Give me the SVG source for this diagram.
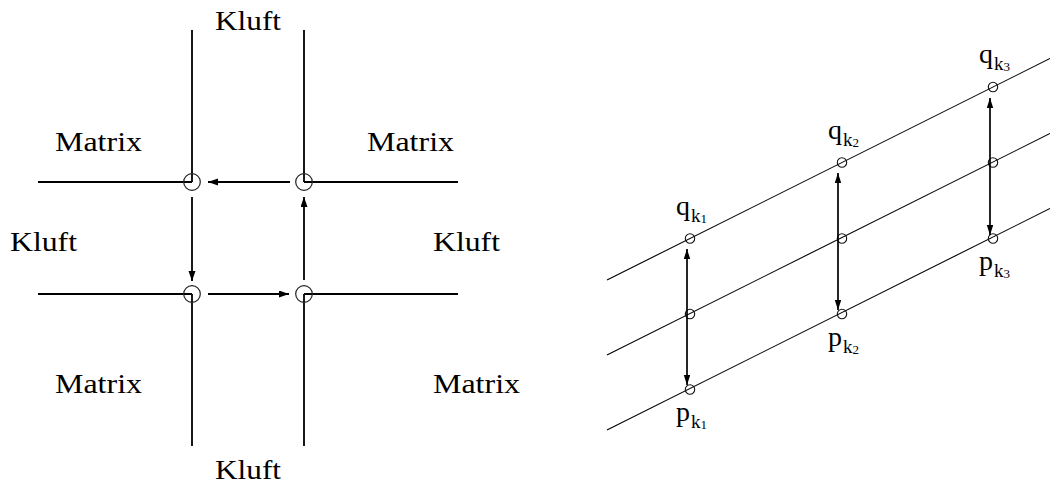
<svg xmlns="http://www.w3.org/2000/svg" width="1050" height="486" viewBox="0 0 1050 486">
<style>
.lbl{font-family:"Liberation Serif","Times New Roman",serif;font-size:27.5px;fill:#000}
.ml{font-family:"Liberation Serif","Times New Roman",serif;font-size:28px;fill:#000}
.s1{font-size:19px}
.s2{font-size:13px}
.thick{stroke:#000;stroke-width:1.8;fill:none}
.thin{stroke:#000;stroke-width:1.1;fill:none}
.nodeL{stroke:#222;stroke-width:1.2;fill:none}
.nodeR{stroke:#111;stroke-width:1.1;fill:none}
.arrL{stroke:#000;stroke-width:1.8;fill:none;marker-end:url(#ahL)}
.arrR{stroke:#000;stroke-width:1.7;fill:none;marker-start:url(#ahR);marker-end:url(#ahR)}
</style>
<defs>
<marker id="ahL" markerUnits="userSpaceOnUse" markerWidth="11" markerHeight="8" refX="10" refY="3.5" orient="auto"><path d="M0,0 L10,3.5 L0,7 z" fill="#000"/></marker>
<marker id="ahR" markerUnits="userSpaceOnUse" markerWidth="11" markerHeight="7" refX="10" refY="3.2" orient="auto-start-reverse"><path d="M0,0 L10,3.2 L0,6.4 z" fill="#000"/></marker>
</defs>
<rect width="1050" height="486" fill="#fff"/>

<g id="left-lines">
<path class="thick" d="M192,30 V182 M38,182 H192"/>
<path class="thick" d="M304,30 V182 M304,182 H458"/>
<path class="thick" d="M38,294 H192 M192,294 V446"/>
<path class="thick" d="M304,294 H458 M304,294 V446"/>
</g>
<g id="left-labels">
<text class="lbl" x="215" y="30" textLength="66" lengthAdjust="spacingAndGlyphs">Kluft</text>
<text class="lbl" x="55" y="151" textLength="87" lengthAdjust="spacingAndGlyphs">Matrix</text>
<text class="lbl" x="367" y="151" textLength="87" lengthAdjust="spacingAndGlyphs">Matrix</text>
<text class="lbl" x="10" y="251" textLength="67" lengthAdjust="spacingAndGlyphs">Kluft</text>
<text class="lbl" x="433" y="251" textLength="67" lengthAdjust="spacingAndGlyphs">Kluft</text>
<text class="lbl" x="55" y="393" textLength="87" lengthAdjust="spacingAndGlyphs">Matrix</text>
<text class="lbl" x="433" y="393" textLength="87" lengthAdjust="spacingAndGlyphs">Matrix</text>
<text class="lbl" x="215" y="479" textLength="66" lengthAdjust="spacingAndGlyphs">Kluft</text>
</g>
<g id="n-tl"><circle class="nodeL" cx="192" cy="182" r="8.3"/></g>
<g id="n-tr"><circle class="nodeL" cx="304" cy="182" r="8.3"/></g>
<g id="n-bl"><circle class="nodeL" cx="192" cy="294" r="8.3"/></g>
<g id="n-br"><circle class="nodeL" cx="304" cy="294" r="8.3"/></g>
<g id="left-connectors">
<line class="arrL" x1="290" y1="182" x2="208" y2="182"/>
<line class="arrL" x1="192" y1="197" x2="192" y2="281"/>
<line class="arrL" x1="208" y1="294" x2="289" y2="294"/>
<line class="arrL" x1="304" y1="280" x2="304" y2="197"/>
</g>

<g id="right-lines">
<line class="thin" x1="607" y1="280" x2="1050" y2="58.5"/>
<line class="thin" x1="607" y1="355" x2="1050" y2="133.5"/>
<line class="thin" x1="607" y1="430" x2="1050" y2="208.5"/>
</g>
<g id="q1"><circle class="nodeR" cx="690" cy="238.5" r="4.7"/><text class="ml" x="676" y="215">q<tspan class="s1" dx="1" dy="7">k</tspan><tspan class="s2" dy="1">1</tspan></text></g>
<g id="m1"><circle class="nodeR" cx="690" cy="314" r="4.7"/></g>
<g id="p1"><circle class="nodeR" cx="690" cy="389.5" r="4.7"/><text class="ml" x="676" y="421">p<tspan class="s1" dx="1" dy="7">k</tspan><tspan class="s2" dy="1">1</tspan></text></g>
<g id="q2"><circle class="nodeR" cx="842" cy="162.5" r="4.7"/><text class="ml" x="828" y="139">q<tspan class="s1" dx="1" dy="7">k</tspan><tspan class="s2" dy="1">2</tspan></text></g>
<g id="m2"><circle class="nodeR" cx="842" cy="238.5" r="4.7"/></g>
<g id="p2"><circle class="nodeR" cx="842" cy="314" r="4.7"/><text class="ml" x="828" y="346">p<tspan class="s1" dx="1" dy="7">k</tspan><tspan class="s2" dy="1">2</tspan></text></g>
<g id="q3"><circle class="nodeR" cx="993" cy="87" r="4.7"/><text class="ml" x="979" y="63">q<tspan class="s1" dx="1" dy="7">k</tspan><tspan class="s2" dy="1">3</tspan></text></g>
<g id="m3"><circle class="nodeR" cx="993" cy="162.5" r="4.7"/></g>
<g id="p3"><circle class="nodeR" cx="993" cy="238.5" r="4.7"/><text class="ml" x="979" y="270">p<tspan class="s1" dx="1" dy="7">k</tspan><tspan class="s2" dy="1">3</tspan></text></g>
<g id="right-connectors">
<line class="arrR" x1="687" y1="249" x2="687" y2="385"/>
<line class="arrR" x1="838" y1="173" x2="838" y2="310"/>
<line class="arrR" x1="990" y1="98" x2="990" y2="235"/>
</g>
</svg>
